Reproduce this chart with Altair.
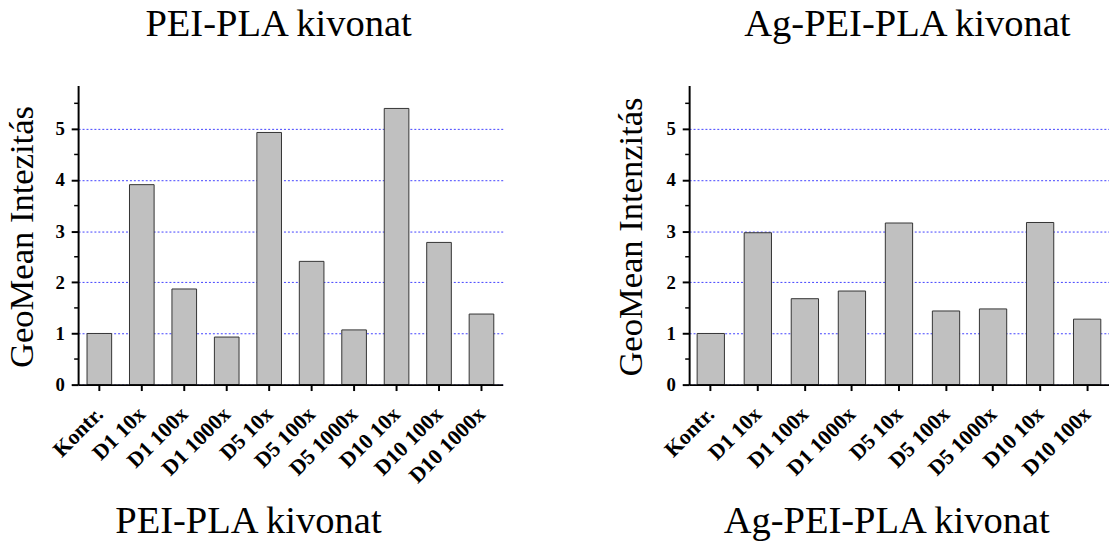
import altair as alt
import pandas as pd

# ---- data ----
cats_left = ["Kontr.", "D1 10x", "D1 100x", "D1 1000x", "D5 10x", "D5 100x",
             "D5 1000x", "D10 10x", "D10 100x", "D10 1000x"]
vals_left = [1.00, 3.91, 1.87, 0.93, 4.93, 2.41, 1.07, 5.40, 2.78, 1.38]

cats_right = ["Kontr.", "D1 10x", "D1 100x", "D1 1000x", "D5 10x", "D5 100x",
              "D5 1000x", "D10 10x", "D10 100x"]
vals_right = [1.00, 2.97, 1.68, 1.83, 3.16, 1.44, 1.48, 3.17, 1.28]

y_major = [0, 1, 2, 3, 4, 5]
y_minor = [0.5, 1.5, 2.5, 3.5, 4.5, 5.5]

FONT = "Liberation Serif"
H = 303


def panel(cats, vals, top_title, top_dx, bottom_title, bottom_x, ytitle,
          ytitle_x, width, pad_outer):
    df = pd.DataFrame({"cat": cats, "val": vals})
    minor = pd.DataFrame({"val": y_minor})
    yscale = alt.Scale(domain=[0, 5.85], nice=False, zero=True)
    yaxis = alt.Axis(
        values=y_major, format="d", grid=True,
        gridColor="#4040ff", gridDash=[2, 2], gridWidth=1,
        domainWidth=2, domainColor="black",
        tickSize=7, tickWidth=2, tickColor="black",
        labelFont=FONT, labelFontSize=19, labelFontWeight="bold",
        labelColor="black", labelPadding=7,
        title=ytitle, titleFont=FONT, titleFontSize=35,
        titleFontWeight="normal", titleColor="black",
        titleX=ytitle_x, titleY=153, titleAngle=-90,
        titleAlign="center", titleBaseline="alphabetic", zindex=0)

    bars = alt.Chart(df).mark_bar(
        color="#c0c0c0", stroke="#333333", strokeWidth=1
    ).encode(
        x=alt.X("cat:N", sort=cats,
                scale=alt.Scale(domain=cats,
                                paddingInner=0.42, paddingOuter=pad_outer),
                axis=alt.Axis(
                    labelAngle=-45, labelAlign="right", labelBaseline="middle",
                    labelFont=FONT, labelFontSize=22, labelFontWeight="bold",
                    labelColor="black", labelPadding=20, labelOverlap=False,
                    labelLimit=0,
                    tickSize=6, tickWidth=2, tickColor="black",
                    domainWidth=2, domainColor="black", grid=False,
                    title=bottom_title, titleFont=FONT, titleFontSize=39,
                    titleFontWeight="normal", titleColor="black",
                    titleX=bottom_x, titleY=150, titleAlign="center",
                    titleBaseline="alphabetic", titleAngle=0, zindex=1)),
        y=alt.Y("val:Q", scale=yscale, axis=yaxis),
    )

    ticks = alt.Chart(minor).mark_rule(color="black", strokeWidth=1.5).encode(
        y=alt.Y("val:Q", scale=yscale, axis=yaxis),
        x=alt.value(-4), x2=alt.value(0),
    )

    return alt.layer(bars, ticks).properties(
        width=width, height=H,
        title=alt.TitleParams(top_title, font=FONT, fontSize=39,
                              fontWeight="normal", color="black",
                              anchor="middle", frame="group", dx=top_dx,
                              offset=11, baseline="alphabetic"),
    )


left = panel(cats_left, vals_left, "PEI-PLA kivonat", -12,
             "PEI-PLA kivonat", 172, "GeoMean Intezitás", -46, 430, 0.21)
right = panel(cats_right, vals_right, "Ag-PEI-PLA kivonat", 8.5,
              "Ag-PEI-PLA kivonat", 199.6, "GeoMean Intenzitás", -48, 425,
              0.17)

chart = alt.hconcat(left, right, spacing=188.8, bounds="flush").properties(
    padding={"left": -4, "top": -6, "right": 0, "bottom": 0},
    background="white",
).configure_view(stroke=None)

chart.save("out.html", embed_options={"renderer": "svg", "actions": False})
